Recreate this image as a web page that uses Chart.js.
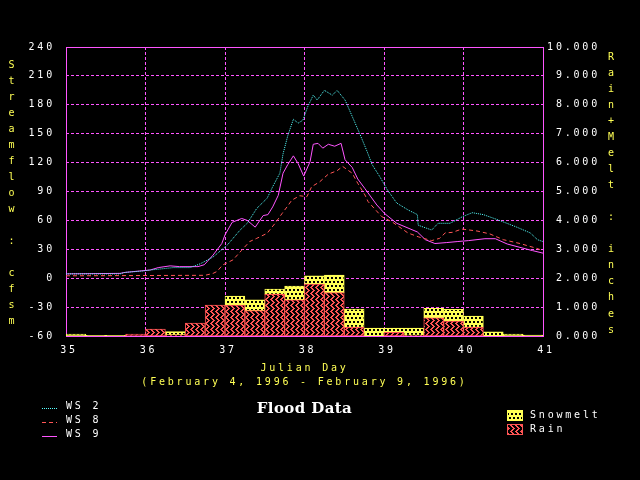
<!DOCTYPE html>
<html>
<head>
<meta charset="utf-8">
<title>Flood Data</title>
<script src="https://cdn.jsdelivr.net/npm/chart.js@4.4.1/dist/chart.umd.min.js"></script>
<style>
  html, body { margin: 0; padding: 0; background: #000; }
  canvas { display: block; }
</style>
</head>
<body>
<canvas id="flood" width="640" height="480"></canvas>
<script>
// Streamflow (cfsm) by julian day
const ws2Day  = [35.00, 35.68, 35.74, 35.97, 36.06, 36.18, 36.35, 36.56, 36.69, 36.85, 37.03, 37.19, 37.28, 37.40, 37.53, 37.60, 37.69, 37.73, 37.79, 37.86, 37.92, 37.98, 38.04, 38.11, 38.16, 38.25, 38.35, 38.41, 38.51, 38.60, 38.70, 38.79, 38.85, 38.95, 39.04, 39.16, 39.30, 39.42, 39.43, 39.60, 39.68, 39.83, 39.99, 40.11, 40.25, 40.42, 40.67, 40.84, 40.93, 41.00];
const ws2Flow = [4.5, 4.5, 6, 7.5, 8.5, 9.5, 11, 11, 15, 22, 34.5, 50, 57, 72.5, 83, 95, 109, 129, 148, 165, 161, 164, 178, 190, 185, 195, 190, 195, 185, 168, 149, 131, 118, 105, 92, 78, 71, 66, 55, 50, 57, 57, 64, 68, 66, 61, 53, 47, 40, 38];

const ws8Day  = [35.00, 36.75, 36.85, 36.90, 36.97, 37.10, 37.21, 37.31, 37.40, 37.53, 37.63, 37.72, 37.78, 37.84, 37.94, 38.03, 38.09, 38.19, 38.30, 38.41, 38.48, 38.60, 38.67, 38.76, 38.80, 38.97, 39.11, 39.30, 39.43, 39.60, 39.70, 39.77, 39.86, 39.98, 40.17, 40.33, 40.50, 40.71, 40.92, 41.00];
const ws8Flow = [2.5, 3, 5, 7, 13.7, 19, 29, 38, 41.4, 46.6, 57, 67.4, 74, 81, 85.6, 84.6, 95, 100, 108, 111.6, 116, 109, 98.5, 86.4, 79.5, 64, 58, 47, 43, 39, 41.4, 47, 47.6, 51, 49, 46, 40, 36, 31, 28.6];

const ws9Day  = [35.00, 35.68, 35.74, 35.93, 36.06, 36.16, 36.31, 36.43, 36.66, 36.74, 36.85, 36.96, 37.00, 37.09, 37.21, 37.28, 37.38, 37.48, 37.54, 37.60, 37.67, 37.73, 37.79, 37.86, 37.92, 37.99, 38.07, 38.11, 38.17, 38.23, 38.30, 38.38, 38.46, 38.51, 38.60, 38.67, 38.76, 38.91, 39.01, 39.16, 39.42, 39.52, 39.64, 39.79, 39.92, 40.06, 40.27, 40.40, 40.55, 40.71, 40.87, 41.00];
const ws9Flow = [4.5, 5, 6, 7.5, 8.5, 11, 12.8, 12, 12, 14, 24, 36, 45, 58, 62, 60, 53, 65, 66, 74, 86, 109, 118, 127, 119, 106, 121, 139, 140, 135, 139, 137, 140, 123, 115, 103, 93, 76, 67, 57, 48, 40, 36, 37, 38, 39, 41, 41, 35.5, 32, 28.6, 26];

// 6-hour totals (inches), bin centres
const binDay   = [35.125, 35.375, 35.625, 35.875, 36.125, 36.375, 36.625, 36.875, 37.125, 37.375, 37.625, 37.875, 38.125, 38.375, 38.625, 38.875, 39.125, 39.375, 39.625, 39.875, 40.125, 40.375, 40.625, 40.875];
const rain     = [0, 0, 0, 0.07, 0.24, 0.04, 0.45, 1.07, 1.07, 0.88, 1.44, 1.25, 1.80, 1.50, 0.30, 0, 0.13, 0.02, 0.63, 0.52, 0.30, 0, 0, 0];
const snowmelt = [0.07, 0.02, 0.02, 0, 0, 0.11, 0, 0, 0.31, 0.37, 0.18, 0.48, 0.28, 0.61, 0.63, 0.27, 0.14, 0.25, 0.33, 0.40, 0.39, 0.14, 0.07, 0.03];

const xTitle = ['Julian Day', '(February 4, 1996 - February 9, 1996)'];
const leftTitle = 'Streamflow : cfsm';
const rightTitle = 'Rain+Melt : inches';
const chartTitle = 'Flood Data';

const CYAN = '#55FFFF', RED = '#FF5555', MAGENTA = '#FF55FF', YELLOW = '#FFFF55', WHITE = '#FFFFFF';
const MONO = '"DejaVu Sans Mono", monospace';
const SPACING = '2.8px';

function makePattern(w, h, paint){
  const c = document.createElement('canvas');
  c.width = w; c.height = h;
  const g = c.getContext('2d');
  paint(g);
  return g.createPattern(c, 'repeat');
}

// vertical zigzag hatch for rain
const rainFill = makePattern(5, 6, g => {
  g.fillStyle = '#000'; g.fillRect(0, 0, 5, 6);
  g.fillStyle = RED;
  [1, 2, 3, 2, 1, 0].forEach((x, y) => {
    g.fillRect(x, y, 2, 1);
    if (x + 2 > 5) g.fillRect(0, y, x + 2 - 5, 1);
  });
});

// dotted yellow for snowmelt
const snowFill = makePattern(8, 8, g => {
  g.fillStyle = YELLOW; g.fillRect(0, 0, 8, 8);
  g.fillStyle = '#000';
  g.fillRect(1, 1, 2, 2); g.fillRect(5, 1, 2, 2);
  g.fillRect(3, 5, 2, 2); g.fillRect(7, 5, 1, 2); g.fillRect(0, 5, 1, 2);
});

const toPoints = (xs, ys) => xs.map((x, i) => ({ x, y: ys[i] }));

function stackText(ctx, text, x, y0, step){
  [...text].forEach((ch, i) => ctx.fillText(ch, x, y0 + i * step));
}

const decor = {
  id: 'decor',
  beforeDraw(chart){
    const ctx = chart.ctx;
    ctx.save();
    ctx.fillStyle = '#000';
    ctx.fillRect(0, 0, chart.width, chart.height);
    ctx.restore();
    ctx.letterSpacing = SPACING;
  },
  beforeDatasetsDraw(chart){
    const { ctx, chartArea: a } = chart;
    ctx.save();
    ctx.strokeStyle = MAGENTA;
    ctx.lineWidth = 1;
    ctx.setLineDash([]);
    ctx.strokeRect(Math.round(a.left) + 0.5, Math.round(a.top) + 0.5,
                   Math.round(a.right - a.left), Math.round(a.bottom - a.top));
    ctx.restore();
  },
  afterDraw(chart){
    const ctx = chart.ctx;
    const ds = chart.data.datasets;
    ctx.save();
    ctx.font = '10px ' + MONO;
    ctx.textBaseline = 'middle';

    // axis titles, one letter under the other
    ctx.letterSpacing = '0px';
    ctx.textAlign = 'center';
    ctx.fillStyle = YELLOW;
    stackText(ctx, leftTitle, 11.5, 65, 16.04);
    stackText(ctx, rightTitle, 611, 57.3, 16.04);

    // line legend, bottom left
    ctx.textAlign = 'left';
    ctx.letterSpacing = SPACING;
    ds.filter(d => d.type === 'line').forEach((d, i) => {
      const y = 408 + i * 14;
      ctx.strokeStyle = d.borderColor;
      ctx.setLineDash(d.borderDash || []);
      ctx.lineWidth = 1;
      ctx.beginPath();
      ctx.moveTo(42, y + 0.5);
      ctx.lineTo(57, y + 0.5);
      ctx.stroke();
      ctx.fillStyle = WHITE;
      ctx.fillText(d.label, 66, y - 1.5);
    });

    // bar legend, bottom right (snowmelt on top)
    ctx.setLineDash([]);
    ds.filter(d => d.type === 'bar').reverse().forEach((d, i) => {
      const y = 410 + i * 14;
      ctx.fillStyle = d.backgroundColor;
      ctx.fillRect(507, y, 15, 10);
      ctx.strokeStyle = d.borderColor;
      ctx.strokeRect(507.5, y + 0.5, 15, 10);
      ctx.fillStyle = WHITE;
      ctx.fillText(d.label, 530, y + 5);
    });

    // title
    ctx.letterSpacing = '0.4px';
    ctx.textAlign = 'center';
    ctx.font = 'bold 15px "DejaVu Serif", serif';
    ctx.fillStyle = WHITE;
    ctx.fillText(chartTitle, 304.5, 409);
    ctx.restore();
  }
};

const tickFont = { family: MONO, size: 10 };

new Chart(document.getElementById('flood'), {
  type: 'line',
  data: {
    datasets: [
      { type: 'line', label: 'WS 2', data: toPoints(ws2Day, ws2Flow), yAxisID: 'y',
        borderColor: CYAN, borderDash: [1, 1], borderWidth: 1, pointRadius: 0, tension: 0, fill: false },
      { type: 'line', label: 'WS 8', data: toPoints(ws8Day, ws8Flow), yAxisID: 'y',
        borderColor: RED, borderDash: [4, 3], borderWidth: 1, pointRadius: 0, tension: 0, fill: false },
      { type: 'line', label: 'WS 9', data: toPoints(ws9Day, ws9Flow), yAxisID: 'y',
        borderColor: MAGENTA, borderWidth: 1, pointRadius: 0, tension: 0, fill: false },
      { type: 'bar', label: 'Rain', data: toPoints(binDay, rain), yAxisID: 'y2', stack: 'p',
        backgroundColor: rainFill, borderColor: RED, borderWidth: 1, borderSkipped: false,
        barPercentage: 1, categoryPercentage: 1 },
      { type: 'bar', label: 'Snowmelt', data: toPoints(binDay, snowmelt), yAxisID: 'y2', stack: 'p',
        backgroundColor: snowFill, borderColor: YELLOW, borderWidth: 1, borderSkipped: false,
        barPercentage: 1, categoryPercentage: 1 }
    ]
  },
  options: {
    responsive: false,
    animation: false,
    layout: { padding: { left: 0, top: 47, right: 40, bottom: 84 } },
    plugins: { legend: { display: false }, tooltip: { enabled: false } },
    scales: {
      x: {
        type: 'linear', min: 35, max: 41, offset: false, stacked: true,
        ticks: { stepSize: 1, color: WHITE, font: tickFont, padding: 8, labelOffset: 3, maxRotation: 0 },
        grid: { color: MAGENTA, drawTicks: false, offset: false },
        border: { display: false, dash: [3, 2] },
        title: { display: true, text: xTitle, color: YELLOW,
                 font: { family: MONO, size: 10, lineHeight: 1.4 }, padding: { top: 0, bottom: 7 } },
        afterFit(s){ s.height = 60; }
      },
      y: {
        position: 'left', min: -60, max: 240, stacked: false,
        ticks: { stepSize: 30, color: WHITE, font: tickFont, padding: 11 },
        grid: { color: MAGENTA, drawTicks: false },
        border: { display: false, dash: [3, 2] },
        afterFit(s){ s.width = 66; }
      },
      y2: {
        position: 'right', min: 0, max: 10, stacked: true,
        ticks: { stepSize: 1, color: WHITE, font: tickFont, crossAlign: 'far', callback: v => v.toFixed(3) },
        grid: { display: false },
        border: { display: false },
        afterFit(s){ s.width = 57; }
      }
    }
  },
  plugins: [decor]
});
</script>
</body>
</html>
